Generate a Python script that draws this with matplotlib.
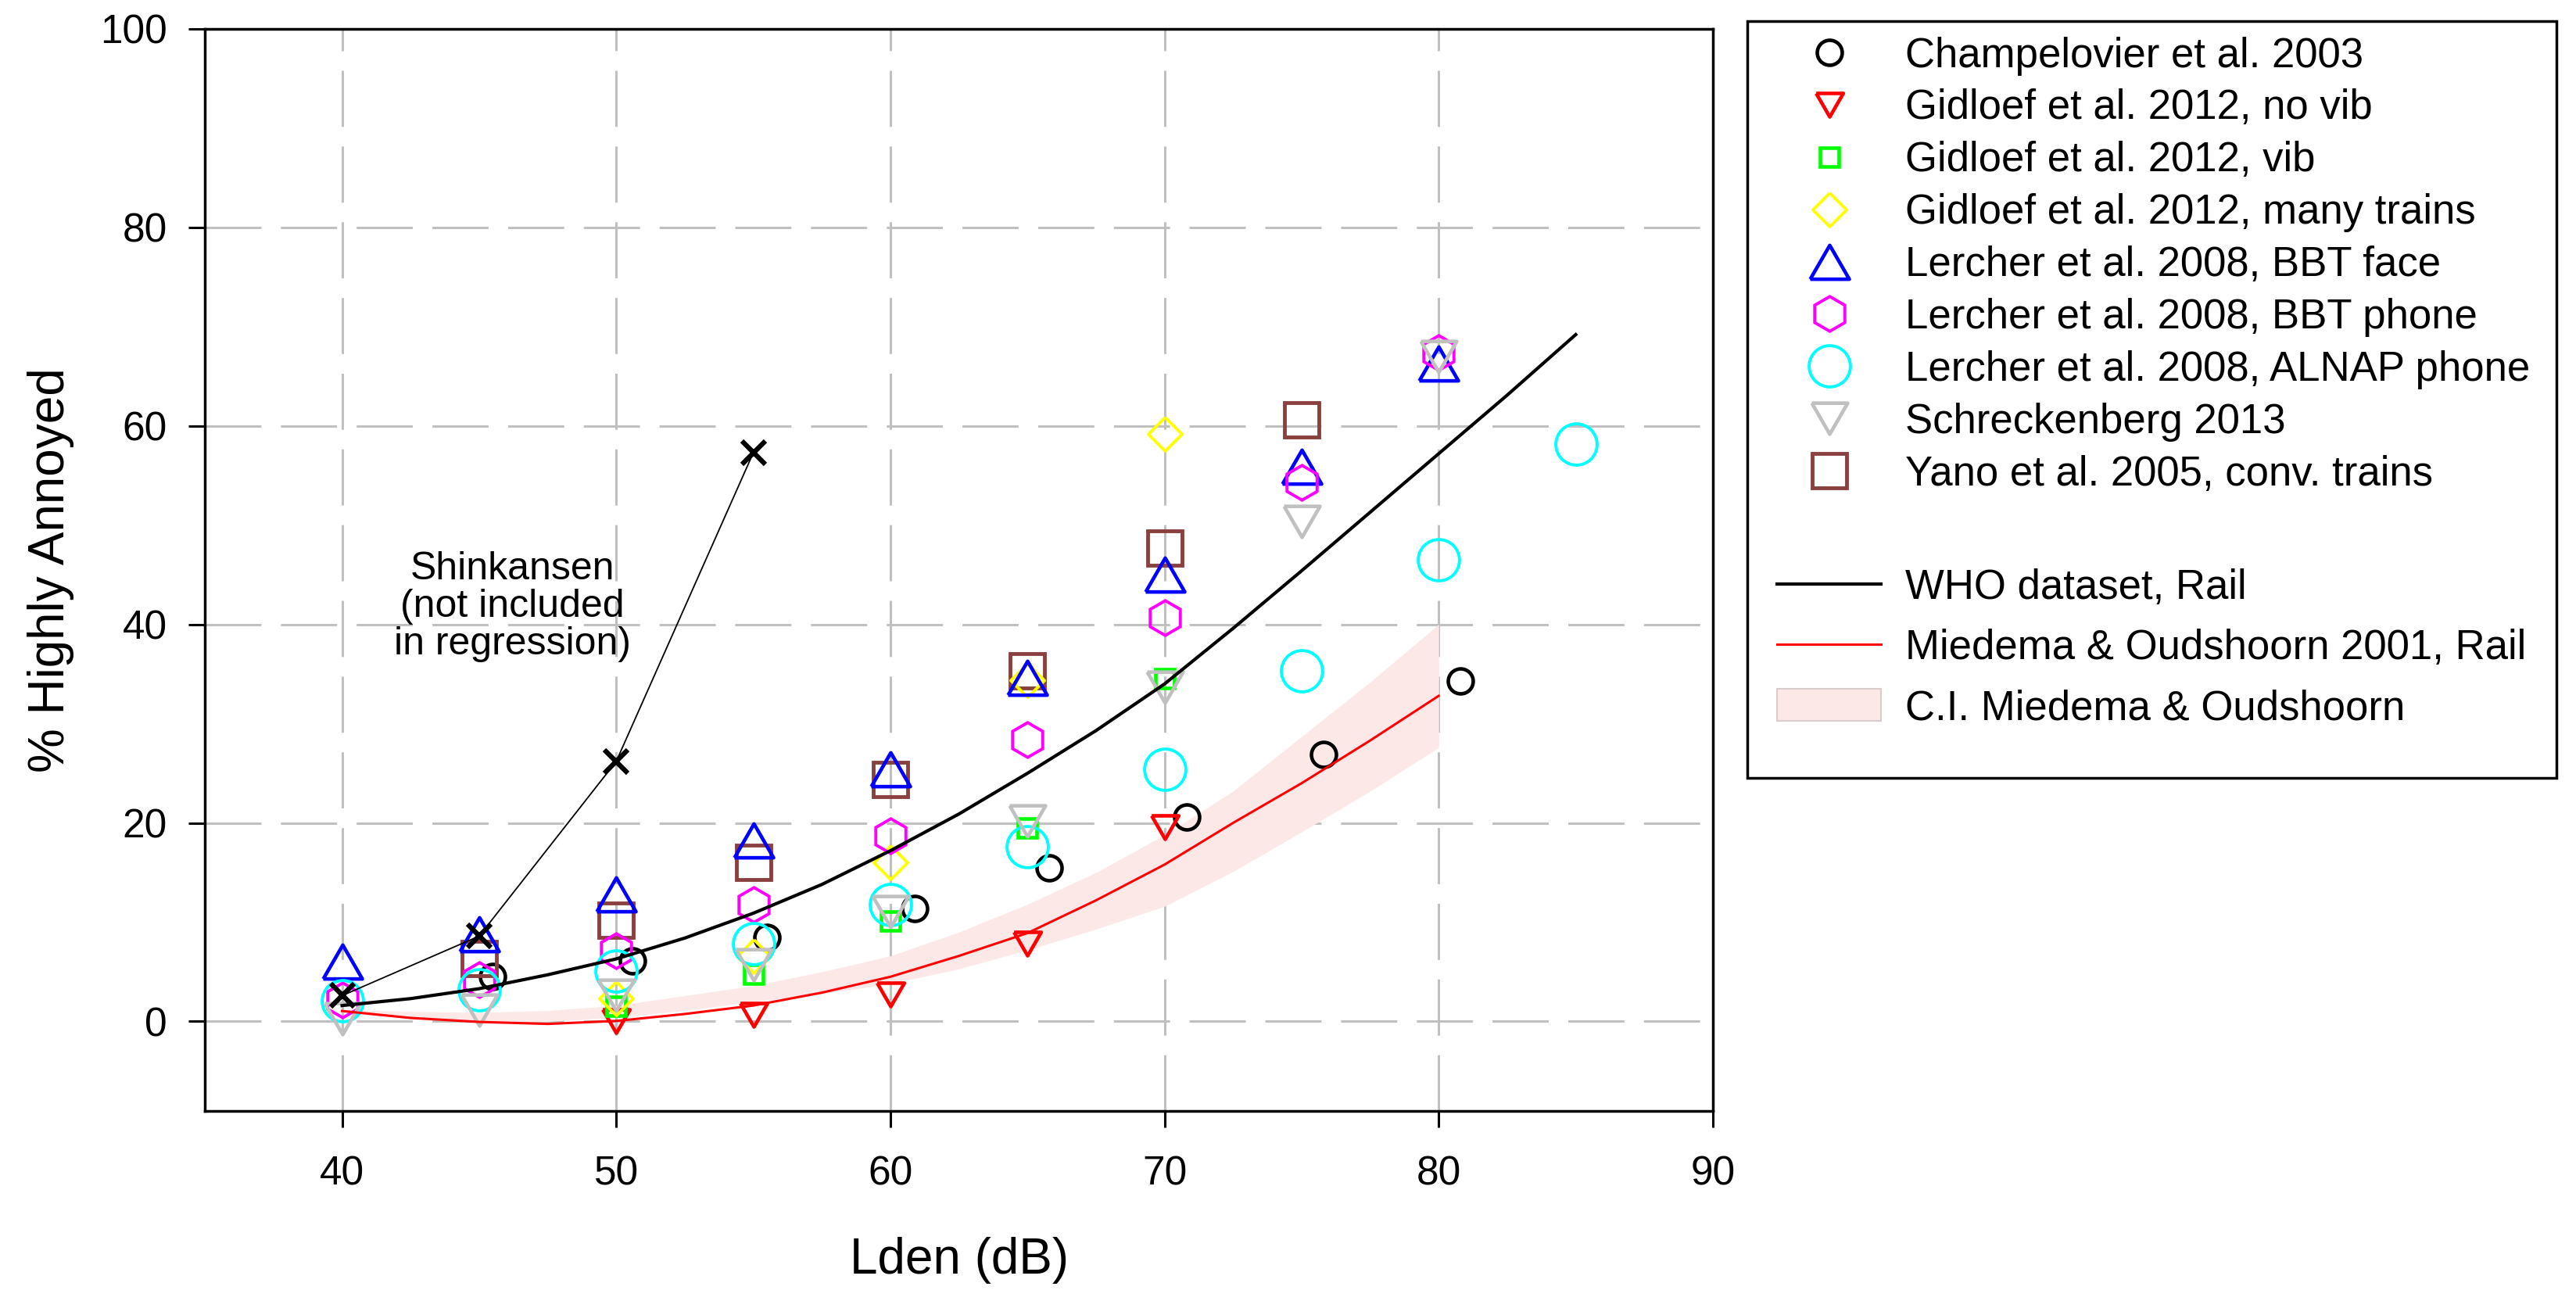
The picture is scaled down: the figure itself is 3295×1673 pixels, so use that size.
import matplotlib
matplotlib.use("Agg")
import matplotlib.pyplot as plt
from matplotlib.patches import Rectangle, Patch

plt.rcParams['font.family'] = ['Liberation Sans', 'DejaVu Sans']

# study data, % highly annoyed per Lden bin
champ_x = [45.5, 50.6, 55.5, 60.9, 65.8, 70.8, 75.8, 80.8]
champ_y = [4.5, 6.1, 8.5, 11.4, 15.5, 20.6, 26.9, 34.3]

novib_x = [50, 55, 60, 65, 70]
novib_y = [0.0, 0.7, 2.7, 7.8, 19.6]

vib_x = [50, 55, 60, 65, 70]
vib_y = [1.5, 4.8, 10.1, 19.5, 34.5]

many_x = [50, 55, 60, 65, 70]
many_y = [2.3, 6.6, 16.0, 34.4, 59.2]

face_x = [40, 45, 50, 55, 60, 65, 70, 75, 80]
face_y = [6.0, 8.8, 12.8, 18.2, 25.4, 34.6, 45.0, 55.9, 66.3]

phone_x = [40, 45, 50, 55, 60, 65, 70, 75, 80]
phone_y = [2.2, 4.2, 7.1, 11.8, 18.7, 28.4, 40.7, 54.3, 67.4]

alnap_x = [40, 45, 50, 55, 60, 65, 70, 75, 80, 85]
alnap_y = [2.05, 3.2, 5.1, 7.8, 11.8, 17.6, 25.4, 35.3, 46.5, 58.2]

schreck_x = [40, 45, 50, 55, 60, 65, 70, 75, 80]
schreck_y = [0.3, 1.1, 2.65, 5.7, 11.1, 20.2, 33.7, 50.4, 67.0]

yano_x = [45, 50, 55, 60, 65, 70, 75]
yano_y = [6.3, 10.2, 16.0, 24.4, 35.3, 47.7, 60.6]

shink_x = [40, 45, 50, 55]
shink_y = [2.6, 8.6, 26.2, 57.3]

# curves
who_x = [40, 42.5, 45, 47.5, 50, 52.5, 55, 57.5, 60, 62.5, 65, 67.5, 70,
         72.5, 75, 77.5, 80, 82.5, 85]
who_y = [1.6, 2.3, 3.3, 4.7, 6.3, 8.4, 10.9, 13.8, 17.2, 20.9, 25.0, 29.3,
         34.0, 39.6, 45.4, 51.3, 57.2, 63.1, 69.2]

mo_x = [40, 42.5, 45, 47.5, 50, 52.5, 55, 57.5, 60, 62.5, 65, 67.5, 70,
        72.5, 75, 77.5, 80]
mo_y = [1.05, 0.35, -0.05, -0.25, 0.05, 0.75, 1.6, 2.9, 4.5, 6.6, 8.9, 12.2,
        15.8, 20.0, 24.0, 28.3, 32.8]
ci_lo = [0.9, 0.3, -0.1, 0.0, 0.4, 1.1, 2.0, 2.8, 3.8, 5.3, 7.2, 9.3, 11.6,
         15.1, 19.1, 23.2, 27.6]
ci_hi = [1.2, 1.0, 0.9, 1.1, 1.6, 2.6, 3.6, 5.0, 6.6, 9.0, 11.8, 15.0, 18.8,
         23.2, 28.7, 34.2, 40.0]

# equilateral triangles like the original (custom verts)
tri_up = [(-1, -0.866), (1, -0.866), (0, 0.866), (-1, -0.866)]
tri_dn = [(-1, 0.866), (1, 0.866), (0, -0.866), (-1, 0.866)]

fig = plt.figure(figsize=(32.95, 16.73), dpi=100)
ax = fig.add_axes([0.0796, 0.1508, 0.5853, 0.8271])

ax.fill_between(mo_x, ci_lo, ci_hi, color='#fde8e8', lw=0, zorder=1)

def pts(x, y, marker, color, ms, mew=3.3, z=3):
    l, = ax.plot(x, y, linestyle='none', marker=marker, ms=ms, mew=mew,
                 mec=color, mfc='none', zorder=z)
    return l

h_champ = pts(champ_x, champ_y, 'o', 'black', 23)
h_yano = pts(yano_x, yano_y, 's', '#8b4040', 32, 3.5)
h_novib = pts(novib_x, novib_y, tri_dn, 'red', 25)
h_vib = pts(vib_x, vib_y, 's', '#00ff00', 17)
h_many = pts(many_x, many_y, [(0, 1), (1, 0), (0, -1), (-1, 0), (0, 1)], '#ffff00', 31, 2.8)
h_face = pts(face_x, face_y, tri_up, 'blue', 36)
h_phone = pts(phone_x, phone_y, 'h', '#ff00ff', 32, 2.8)
h_alnap = pts(alnap_x, alnap_y, 'o', '#00ffff', 38, 2.8)
h_schreck = pts(schreck_x, schreck_y, tri_dn, '#c0c0c0', 33)

h_who, = ax.plot(who_x, who_y, color='black', lw=3, zorder=4)
h_mo, = ax.plot(mo_x, mo_y, color='red', lw=2.2, zorder=4)
h_ci = Patch(facecolor='#fde8e8', edgecolor='#d8cccc', lw=1.5)

ax.plot(shink_x, shink_y, color='black', lw=1.3, marker='x', ms=22, mew=4.5,
        zorder=6)
ax.text(46.2, 41.8, 'Shinkansen\n(not included\nin regression)', ha='center',
        va='center', fontsize=36, linespacing=1.05)

ax.set_xlim(35, 90)
ax.set_ylim(-9, 100)
ax.set_xticks([40, 50, 60, 70, 80, 90])
ax.set_yticks([0, 20, 40, 60, 80, 100])
ax.grid(True, color='#c0c0c0', lw=2.2, linestyle=(0, (23.5, 8.2)))
ax.set_axisbelow(True)
for s in ax.spines.values():
    s.set_linewidth(2.5)
ax.tick_params(axis='both', direction='out', length=15, width=2.2,
               labelsize=37)
ax.tick_params(axis='y', pad=20)
ax.tick_params(axis='x', pad=26)
ax.set_xlabel('Lden (dB)', fontsize=46, labelpad=40)
ax.set_ylabel('% Highly Annoyed', fontsize=46, labelpad=24)

# legend: marker part and line part inside one hand-drawn frame
leg_kw = dict(loc='upper left', frameon=False, borderpad=0, borderaxespad=0,
              numpoints=1, fontsize=38, handlelength=2.52, handletextpad=0.58)
fig.legend(handles=[h_champ, h_novib, h_vib, h_many, h_face, h_phone, h_alnap,
                    h_schreck, h_yano],
           labels=['Champelovier et al. 2003', 'Gidloef et al. 2012, no vib',
                   'Gidloef et al. 2012, vib', 'Gidloef et al. 2012, many trains',
                   'Lercher et al. 2008, BBT face', 'Lercher et al. 2008, BBT phone',
                   'Lercher et al. 2008, ALNAP phone', 'Schreckenberg 2013',
                   'Yano et al. 2005, conv. trains'],
           bbox_to_anchor=(0.6899, 0.9722), labelspacing=0.32, **leg_kw)
fig.legend(handles=[h_who, h_mo, h_ci],
           labels=['WHO dataset, Rail', 'Miedema & Oudshoorn 2001, Rail',
                   'C.I. Miedema & Oudshoorn'],
           bbox_to_anchor=(0.6899, 0.5652), labelspacing=0.51,
           handleheight=0.82, **leg_kw)
fig.add_artist(Rectangle((0.6783, 0.4053), 0.3141, 0.5786,
                         transform=fig.transFigure, fill=False,
                         ec='black', lw=2.5))

fig.savefig('out.png', dpi=100)
